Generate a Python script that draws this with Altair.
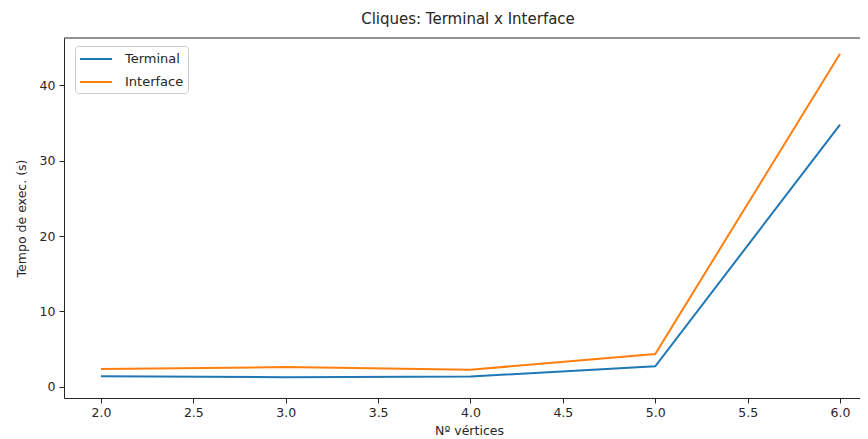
import altair as alt
import pandas as pd

vertices = [2, 3, 4, 5, 6]
terminal = [1.4, 1.25, 1.35, 2.7, 34.8]
interface = [2.35, 2.6, 2.25, 4.35, 44.2]
series = ["Terminal", "Interface"]
colors = ["#1f77b4", "#ff7f0e"]
x_ticks = [2.0, 2.5, 3.0, 3.5, 4.0, 4.5, 5.0, 5.5, 6.0]
y_ticks = [0, 10, 20, 30, 40]
title_text = ["Cliques: Terminal x Interface"]

rows = []
for name, vals in zip(series, [terminal, interface]):
    for v, t in zip(vertices, vals):
        rows.append({"x": v, "y": t, "serie": name})
df = pd.DataFrame(rows)

W, H = 796, 360
FONT = "DejaVu Sans"
TXT = "#262626"

lines = alt.Chart(df).mark_line(strokeWidth=2, clip=True).encode(
    x=alt.X("x:Q",
            scale=alt.Scale(domain=[1.8, 6.108], nice=False, zero=False),
            axis=alt.Axis(title="Nº vértices", values=x_ticks, format=".1f",
                          grid=False, tickSize=5, labelPadding=3, titlePadding=6,
                          titleX=405,
                          domainColor=TXT, tickColor=TXT, labelColor=TXT, titleColor=TXT,
                          labelFontSize=12.5, titleFontSize=12.5, titleFontWeight="normal",
                          labelFont=FONT, titleFont=FONT)),
    y=alt.Y("y:Q",
            scale=alt.Scale(domain=[-1.5, 46.3], nice=False, zero=False),
            axis=alt.Axis(title="Tempo de exec. (s)", values=y_ticks, format="d",
                          grid=False, tickSize=5, labelPadding=4, titlePadding=11,
                          domainColor=TXT, tickColor=TXT, labelColor=TXT, titleColor=TXT,
                          labelFontSize=12.5, titleFontSize=12.5, titleFontWeight="normal",
                          labelFont=FONT, titleFont=FONT)),
    color=alt.Color("serie:N",
                    scale=alt.Scale(domain=series, range=colors),
                    legend=alt.Legend(title=None, orient="none", legendX=11, legendY=8,
                                      symbolType="M-1,0H3", symbolSize=256,
                                      symbolStrokeWidth=2, labelOffset=28,
                                      rowPadding=7, padding=4,
                                      labelFontSize=13, labelFont=FONT, labelColor=TXT,
                                      strokeColor="#cccccc", fillColor="white",
                                      cornerRadius=3)),
)

top = alt.Chart(alt.Data(values=[{}])).mark_rule(color=TXT, strokeWidth=1).encode(
    x=alt.value(0), x2=alt.value(W), y=alt.value(0)
)

title = alt.Chart(pd.DataFrame({"t": title_text})).mark_text(
    font=FONT, fontSize=15, color=TXT, align="center", baseline="middle"
).encode(x=alt.value(404), y=alt.value(-19), text="t:N")

chart = alt.layer(top, lines, title).properties(
    width=W, height=H,
    autosize=alt.AutoSizeParams(type="none"),
    padding={"left": 56, "top": 30, "right": 0, "bottom": 41},
).configure_view(stroke=None)

chart.save("out.html", embed_options={"renderer": "svg", "actions": False})
